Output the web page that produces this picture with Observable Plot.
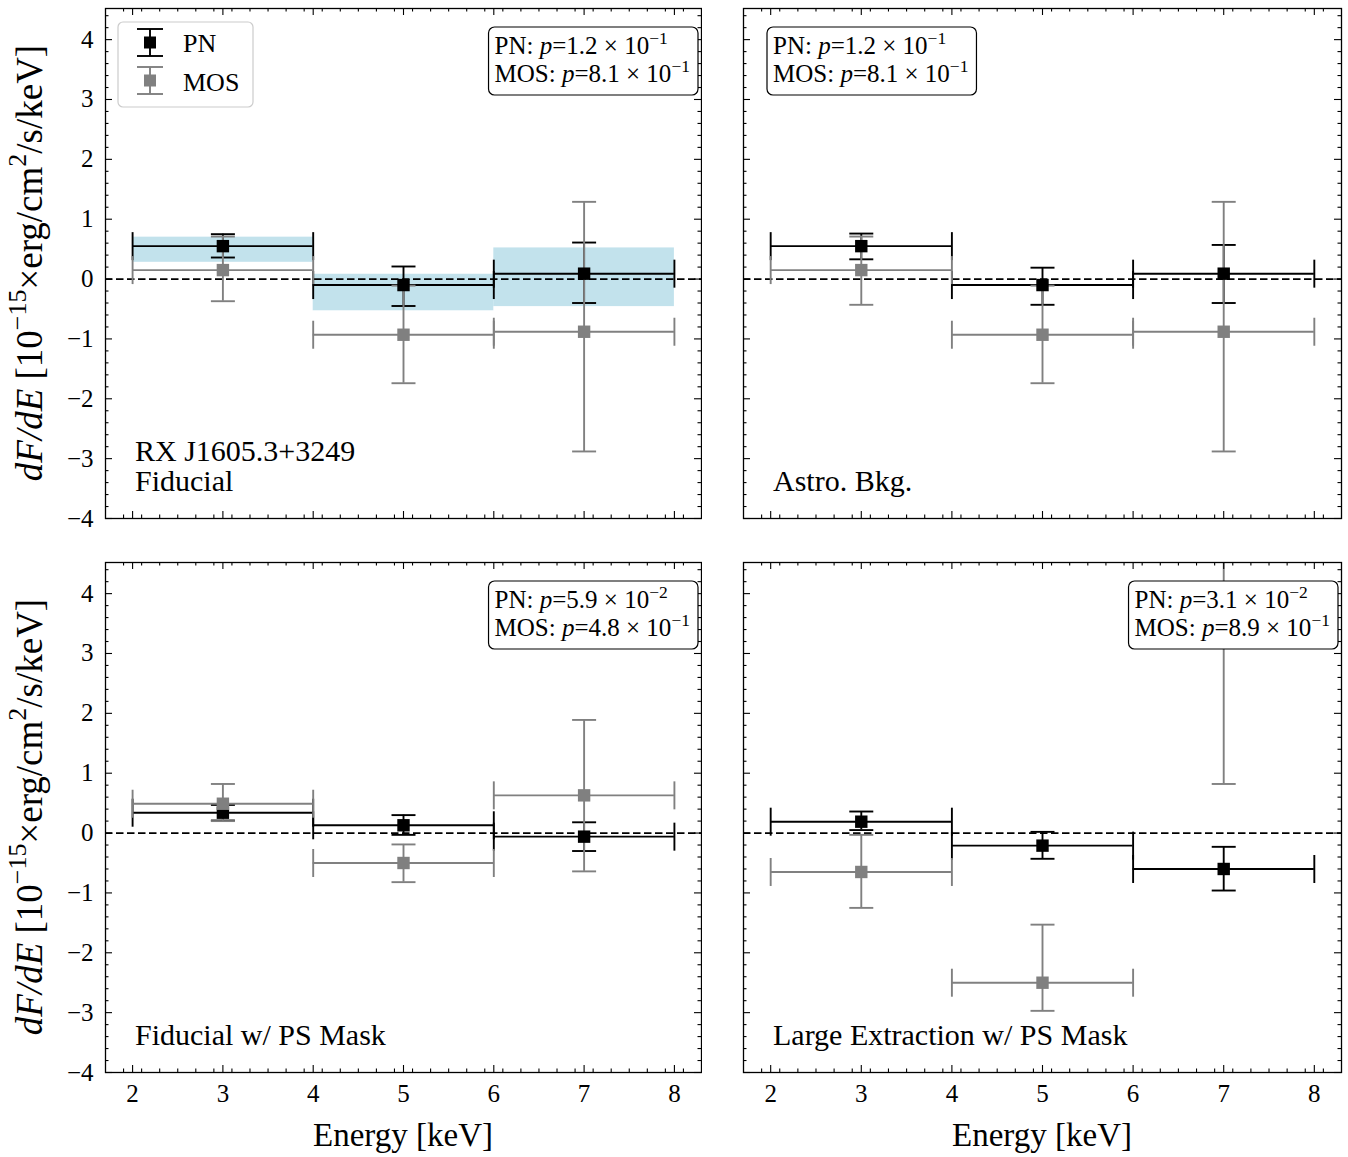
<!DOCTYPE html>
<html><head><meta charset="utf-8">
<script src="https://cdn.jsdelivr.net/npm/d3@7"></script>
<script src="https://cdn.jsdelivr.net/npm/@observablehq/plot@0.6"></script>
<style>
body{margin:0;background:#fff}
#chart{position:relative;width:1348px;height:1157px;background:#fff}
#chart svg{position:absolute;max-width:none}
</style>
</head><body><div id="chart"></div>
<script>
// ---------- data ----------
const energyEdges = [2, 4, 6, 8];
const energyCenters = [3, 5, 7];
const panelLabels = [["RX J1605.3+3249", "Fiducial"], ["Astro. Bkg."], ["Fiducial w/ PS Mask"], ["Large Extraction w/ PS Mask"]];
const pnFlux = [[0.55, -0.10, 0.09], [0.55, -0.10, 0.09], [0.34, 0.13, -0.06], [0.19, -0.21, -0.60]];
const pnLow  = [[0.36, -0.45, -0.40], [0.33, -0.43, -0.40], [0.21, -0.03, -0.30], [0.05, -0.43, -0.96]];
const pnHigh = [[0.75, 0.21, 0.61], [0.76, 0.19, 0.57], [0.47, 0.30, 0.18], [0.36, 0.02, -0.23]];
const mosFlux = [[0.15, -0.93, -0.88], [0.15, -0.93, -0.88], [0.49, -0.50, 0.63], [-0.65, -2.50, 5.0]];
const mosLow  = [[-0.37, -1.74, -2.88], [-0.43, -1.74, -2.88], [0.20, -0.82, -0.64], [-1.25, -2.97, 0.82]];
const mosHigh = [[0.71, -0.11, 1.29], [0.71, -0.11, 1.29], [0.82, -0.19, 1.89], [-0.03, -1.53, 9.2]];
const modelLow = [0.28, -0.53, -0.46];   // shaded band, first panel
const modelHigh = [0.70, 0.08, 0.52];
const pnP  = [["1.2", "−1"], ["1.2", "−1"], ["5.9", "−2"], ["3.1", "−2"]];
const mosP = [["8.1", "−1"], ["8.1", "−1"], ["4.8", "−1"], ["8.9", "−1"]];
const xTicks = [2, 3, 4, 5, 6, 7, 8];
const yTicks = [-4, -3, -2, -1, 0, 1, 2, 3, 4];
const seriesNames = ["PN", "MOS"];

// ---------- layout ----------
const FONT = "Liberation Serif";
const PN_COLOR = "black", MOS_COLOR = "#808080";
const panels = [
  {left: 0,   top: 0,   width: 702, height: 540, ml: 105, mr: 1, mt: 8,  mb: 22, xAxis: false, yAxis: true,  box: "right"},
  {left: 702, top: 0,   width: 646, height: 540, ml: 41,  mr: 7, mt: 8,  mb: 22, xAxis: false, yAxis: false, box: "left"},
  {left: 0,   top: 540, width: 702, height: 617, ml: 105, mr: 1, mt: 22, mb: 85, xAxis: true,  yAxis: true,  box: "right"},
  {left: 702, top: 540, width: 646, height: 617, ml: 41,  mr: 7, mt: 22, mb: 85, xAxis: true,  yAxis: false, box: "right"}
];
const X_DOMAIN = [1.7, 8.3], Y_DOMAIN = [-4, 4.52];
const xMinor = d3.range(17, 84, 2).map(v => v / 10).filter(v => v > X_DOMAIN[0] && v < X_DOMAIN[1] && Math.abs(v - Math.round(v)) > 1e-6);
const yMinor = d3.range(-20, 23).map(v => v / 5).filter(v => v >= Y_DOMAIN[0] && v <= Y_DOMAIN[1] && Math.abs(v - Math.round(v)) > 1e-6);

const capVert = {draw(ctx, size) { const r = Math.sqrt(size / Math.PI); ctx.moveTo(0, -r); ctx.lineTo(0, r); }};
const capHorz = {draw(ctx, size) { const r = Math.sqrt(size / Math.PI); ctx.moveTo(-r, 0); ctx.lineTo(r, 0); }};

function rows(vals, lo, hi) {
  return energyCenters.map((c, i) => ({x: c, x1: energyEdges[i], x2: energyEdges[i + 1], v: vals[i], lo: lo[i], hi: hi[i]}));
}
function errMarks(data, color) {
  const base = {stroke: color, strokeWidth: 1.9, clip: true};
  return [
    Plot.ruleY(data, {y: "v", x1: "x1", x2: "x2", ...base}),
    Plot.ruleX(data, {x: "x", y1: "lo", y2: "hi", ...base}),
    Plot.dot(data, {x: "x1", y: "v", symbol: capVert, r: 14, fill: "none", ...base}),
    Plot.dot(data, {x: "x2", y: "v", symbol: capVert, r: 14, fill: "none", ...base}),
    Plot.dot(data, {x: "x", y: "lo", symbol: capHorz, r: 12, fill: "none", ...base}),
    Plot.dot(data, {x: "x", y: "hi", symbol: capHorz, r: 12, fill: "none", ...base})
  ];
}

function rich(textSel, parts, size) {
  let shift = 0;
  parts.forEach(p => {
    const ts = textSel.append("tspan").text(p.t);
    if (p.i) ts.attr("font-style", "italic");
    const target = p.sup ? -size * 0.42 : 0;
    if (target !== shift) { ts.attr("dy", target - shift); shift = target; }
    if (p.sup) ts.attr("font-size", size * 0.7);
  });
}

const container = document.getElementById("chart");

panels.forEach((P, k) => {
  const fw = P.width - P.ml - P.mr, fh = P.height - P.mt - P.mb;
  const pn = rows(pnFlux[k], pnLow[k], pnHigh[k]);
  const mos = rows(mosFlux[k], mosLow[k], mosHigh[k]);
  const marks = [];
  if (k === 0) {
    const band = energyCenters.map((c, i) => ({x1: energyEdges[i], x2: energyEdges[i + 1], y1: modelLow[i], y2: modelHigh[i]}));
    marks.push(Plot.rect(band, {x1: "x1", x2: "x2", y1: "y1", y2: "y2", fill: "lightblue", fillOpacity: 0.75}));
  }
  marks.push(Plot.ruleY([0], {stroke: "black", strokeWidth: 1.8, strokeDasharray: "7.5,3.5"}));
  marks.push(...errMarks(pn, PN_COLOR));
  marks.push(...errMarks(mos, MOS_COLOR));
  marks.push(Plot.dot(pn, {x: "x", y: "v", symbol: "square", r: 7, fill: PN_COLOR, stroke: "none", clip: true}));
  marks.push(Plot.dot(mos, {x: "x", y: "v", symbol: "square", r: 7, fill: MOS_COLOR, stroke: "none", clip: true}));
  const tk = {stroke: "black", strokeWidth: 1.1};
  marks.push(
    Plot.tickX(xTicks, {x: d => d, insetTop: fh - 7, ...tk}),
    Plot.tickX(xTicks, {x: d => d, insetBottom: fh - 7, ...tk}),
    Plot.tickX(xMinor, {x: d => d, insetTop: fh - 3.5, ...tk}),
    Plot.tickX(xMinor, {x: d => d, insetBottom: fh - 3.5, ...tk}),
    Plot.tickY(yTicks, {y: d => d, insetRight: fw - 7, ...tk}),
    Plot.tickY(yTicks, {y: d => d, insetLeft: fw - 7, ...tk}),
    Plot.tickY(yMinor, {y: d => d, insetRight: fw - 3.5, ...tk}),
    Plot.tickY(yMinor, {y: d => d, insetLeft: fw - 3.5, ...tk}),
    Plot.frame({stroke: "black", strokeWidth: 1.3})
  );
  if (P.xAxis) marks.push(Plot.axisX({ticks: xTicks, tickSize: 0, tickPadding: 12, tickFormat: "d", fontSize: 25, fontFamily: FONT, label: null}));
  if (P.yAxis) marks.push(Plot.axisY({ticks: yTicks, tickSize: 0, tickPadding: 12, tickFormat: "d", fontSize: 25, fontFamily: FONT, label: null}));
  const chart = Plot.plot({
    width: P.width, height: P.height,
    marginLeft: P.ml, marginRight: P.mr, marginTop: P.mt, marginBottom: P.mb,
    style: {fontFamily: FONT, fontSize: "25px", color: "black", background: "white", overflow: "visible"},
    x: {domain: X_DOMAIN, label: null, ...(P.xAxis ? {} : {axis: null})},
    y: {domain: Y_DOMAIN, label: null, ...(P.yAxis ? {} : {axis: null})},
    marks
  });
  chart.style.left = P.left + "px";
  chart.style.top = P.top + "px";
  container.appendChild(chart);

  const svg = d3.select(chart);
  const fL = P.ml, fR = P.width - P.mr, fT = P.mt, fB = P.height - P.mb;

  // panel label
  const lines = panelLabels[k];
  lines.forEach((s, j) => {
    svg.append("text").attr("x", fL + 30).attr("y", fB - 27 - (lines.length - 1 - j) * 30)
      .attr("font-family", FONT).attr("font-size", 30).attr("fill", "black").attr("text-anchor", "start").text(s);
  });

  // p-value box
  const g = svg.append("g");
  const by = fT + 19, fs = 25;
  const t1 = g.append("text").attr("y", by + 27).attr("font-family", FONT).attr("font-size", fs).attr("text-anchor", "start");
  rich(t1, [{t: "PN: "}, {t: "p", i: true}, {t: "=" + pnP[k][0] + " × 10"}, {t: pnP[k][1], sup: true}], fs);
  const t2 = g.append("text").attr("y", by + 55).attr("font-family", FONT).attr("font-size", fs).attr("text-anchor", "start");
  rich(t2, [{t: "MOS: "}, {t: "p", i: true}, {t: "=" + mosP[k][0] + " × 10"}, {t: mosP[k][1], sup: true}], fs);
  const w = Math.max(t1.node().getBBox().width, t2.node().getBBox().width) + 14;
  const rx0 = P.box === "right" ? fR - 3 - w : fL + 24;
  t1.attr("x", rx0 + 6); t2.attr("x", rx0 + 6);
  g.insert("rect", "text").attr("x", rx0).attr("y", by).attr("width", w).attr("height", 68)
    .attr("rx", 6).attr("fill", "white").attr("stroke", "black").attr("stroke-width", 1.2);

  // legend (first panel)
  if (k === 0) {
    const lg = svg.append("g");
    lg.append("rect").attr("x", fL + 13).attr("y", fT + 14).attr("width", 135).attr("height", 85).attr("rx", 5)
      .attr("fill", "white").attr("fill-opacity", 0.8).attr("stroke", "#cccccc").attr("stroke-width", 1.2);
    const cx = fL + 45;
    [[PN_COLOR, fT + 34.5, fT + 44], [MOS_COLOR, fT + 72.5, fT + 83]].forEach(([c, cy, ty], j) => {
      lg.append("line").attr("x1", cx).attr("x2", cx).attr("y1", cy - 13.5).attr("y2", cy + 13.5).attr("stroke", c).attr("stroke-width", 1.9);
      [cy - 13.5, cy + 13.5].forEach(yy => lg.append("line").attr("x1", cx - 13).attr("x2", cx + 13).attr("y1", yy).attr("y2", yy).attr("stroke", c).attr("stroke-width", 1.9));
      lg.append("rect").attr("x", cx - 6).attr("y", cy - 6).attr("width", 12).attr("height", 12).attr("fill", c);
      lg.append("text").attr("x", fL + 78).attr("y", ty).attr("font-family", FONT).attr("font-size", 26).attr("text-anchor", "start").text(seriesNames[j]);
    });
  }

  // axis titles
  if (P.xAxis) {
    svg.append("text").attr("x", (fL + fR) / 2).attr("y", fB + 74).attr("font-family", FONT).attr("font-size", 33)
      .attr("text-anchor", "middle").text("Energy [keV]");
  }
  if (P.yAxis) {
    const yt = svg.append("text").attr("transform", `translate(42,${(fT + fB) / 2}) rotate(-90)`)
      .attr("font-family", FONT).attr("font-size", 37).attr("text-anchor", "middle");
    rich(yt, [{t: "dF/dE", i: true}, {t: " [10"}, {t: "−15", sup: true}, {t: "×erg/cm"}, {t: "2", sup: true}, {t: "/s/keV]"}], 37);
  }
});
</script></body></html>
